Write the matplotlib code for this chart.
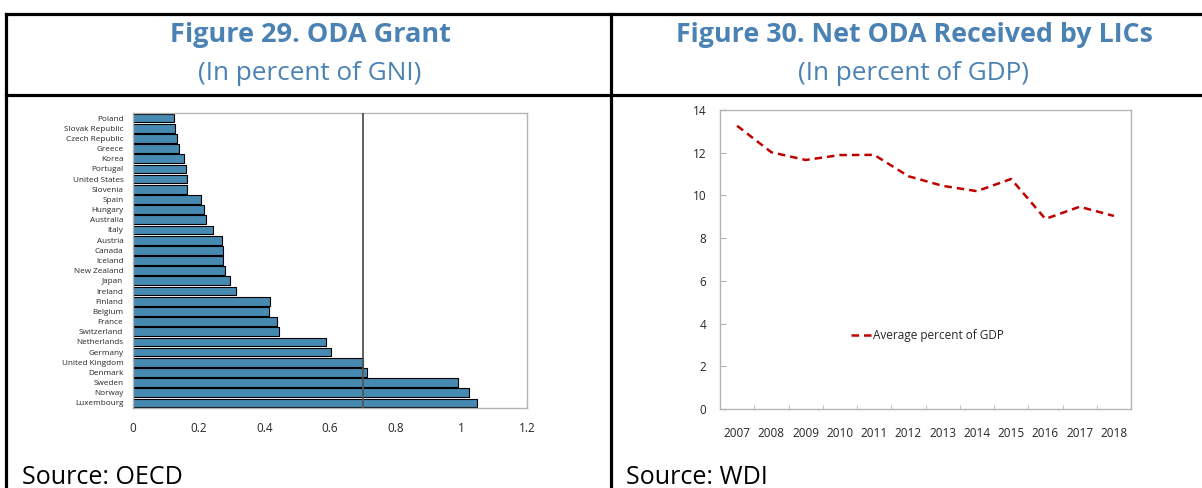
"""
Figures 29 and 30: ODA grants by donor and net ODA received by LICs.
"""

import matplotlib.pyplot as plt
from matplotlib.lines import Line2D
from matplotlib.ticker import FormatStrFormatter

plt.rcParams['font.family'] = ['Open Sans', 'DejaVu Sans']

countries = ['Poland', 'Slovak Republic', 'Czech Republic', 'Greece', 'Korea',
             'Portugal', 'United States', 'Slovenia', 'Spain', 'Hungary',
             'Australia', 'Italy', 'Austria', 'Canada', 'Iceland', 'New Zealand',
             'Japan', 'Ireland', 'Finland', 'Belgium', 'France', 'Switzerland',
             'Netherlands', 'Germany', 'United Kingdom', 'Denmark', 'Sweden',
             'Norway', 'Luxembourg']
oda_grant = [0.125, 0.127, 0.133, 0.141, 0.154, 0.162, 0.163, 0.165, 0.208,
             0.217, 0.221, 0.245, 0.270, 0.273, 0.275, 0.279, 0.295, 0.315,
             0.416, 0.415, 0.440, 0.445, 0.588, 0.602, 0.700, 0.713, 0.989,
             1.023, 1.049]
un_target = 0.7

years = ['2007', '2008', '2009', '2010', '2011', '2012', '2013', '2014',
         '2015', '2016', '2017', '2018']
net_oda = [13.26, 12.02, 11.66, 11.89, 11.90, 10.90, 10.45, 10.20, 10.77,
           8.90, 9.47, 9.04]

W, H = 1202, 488
title_color = '#4a82b4'
text_color = '#262626'
spine_color = '#b4b4b4'

fig = plt.figure(figsize=(W / 100, H / 100), dpi=100)


def px_axes(x0, y0, x1, y1):
    # axes from pixel box (top-left origin)
    return fig.add_axes([x0 / W, 1 - y1 / H, (x1 - x0) / W, (y1 - y0) / H])


# frame lines
for xs, ys in [((6, W), (13.5, 13.5)), ((6, W), (95, 95)),
               ((6, 6), (13.5, H)), ((611, 611), (13.5, H))]:
    fig.add_artist(Line2D([x / W for x in xs], [1 - y / H for y in ys],
                          color='black', linewidth=2.3,
                          transform=fig.transFigure))

# titles
fig.text(310 / W, 1 - 35 / H, 'Figure 29. ODA Grant', ha='center', va='center',
         fontsize=19.5, fontweight='bold', color=title_color)
fig.text(310 / W, 1 - 74 / H, '(In percent of GNI)', ha='center', va='center',
         fontsize=18.8, color=title_color)
fig.text(914 / W, 1 - 35 / H, 'Figure 30. Net ODA Received by LICs', ha='center',
         va='center', fontsize=19.3, fontweight='bold', color=title_color)
fig.text(914 / W, 1 - 74 / H, '(In percent of GDP)', ha='center', va='center',
         fontsize=18.8, color=title_color)
fig.text(22 / W, 1 - 477 / H, 'Source: OECD', ha='left', va='center',
         fontsize=18, color='black')
fig.text(626 / W, 1 - 477 / H, 'Source: WDI', ha='left', va='center',
         fontsize=18, color='black')

# left: bar chart
ax1 = px_axes(133, 113, 527, 408)
pos = list(range(len(countries)))
ax1.barh(pos, oda_grant, height=0.86, color='#4689b1', edgecolor='black',
         linewidth=0.8, zorder=2)
ax1.axvline(un_target, color='#555555', linewidth=1.3, zorder=3)
ax1.set_yticks(pos)
ax1.set_yticklabels(countries)
ax1.set_ylim(len(countries) - 0.5, -0.5)
ax1.set_xlim(0, 1.2)
ax1.set_xticks([0, 0.2, 0.4, 0.6, 0.8, 1.0, 1.2])
ax1.xaxis.set_major_formatter(FormatStrFormatter('%g'))
ax1.tick_params(axis='y', length=0, labelsize=5.9, pad=7, labelcolor=text_color)
ax1.tick_params(axis='x', direction='in', length=3, color=spine_color,
                labelsize=8.5, pad=10, labelcolor=text_color)
for sp in ax1.spines.values():
    sp.set_color(spine_color)
    sp.set_linewidth(1)

# right: line chart
ax2 = px_axes(720, 110, 1131, 409)
x = list(range(len(years)))
ax2.plot(x, net_oda, color='#c00000', linestyle=(0, (3, 2)), linewidth=1.8,
         label='Average percent of GDP')
ax2.set_xlim(-0.5, len(years) - 0.5)
ax2.set_ylim(0, 14)
ax2.set_yticks(range(0, 15, 2))
ax2.set_xticks(x)
ax2.set_xticklabels(years)
ax2.set_xticks([i + 0.5 for i in x[:-1]], minor=True)
ax2.tick_params(axis='x', which='major', length=0, labelsize=8.5, pad=13,
                labelcolor=text_color)
ax2.tick_params(axis='x', which='minor', direction='in', length=3,
                color=spine_color)
ax2.tick_params(axis='y', direction='in', length=4, color=spine_color,
                labelsize=8.5, pad=10, labelcolor=text_color)
for sp in ax2.spines.values():
    sp.set_color(spine_color)
    sp.set_linewidth(1)
ax2.legend(loc='center', bbox_to_anchor=(0.505, 0.247), frameon=False,
           fontsize=8.5, handlelength=1.8, handletextpad=0.1,
           labelcolor=text_color)

fig.savefig('out.png', dpi=100)
